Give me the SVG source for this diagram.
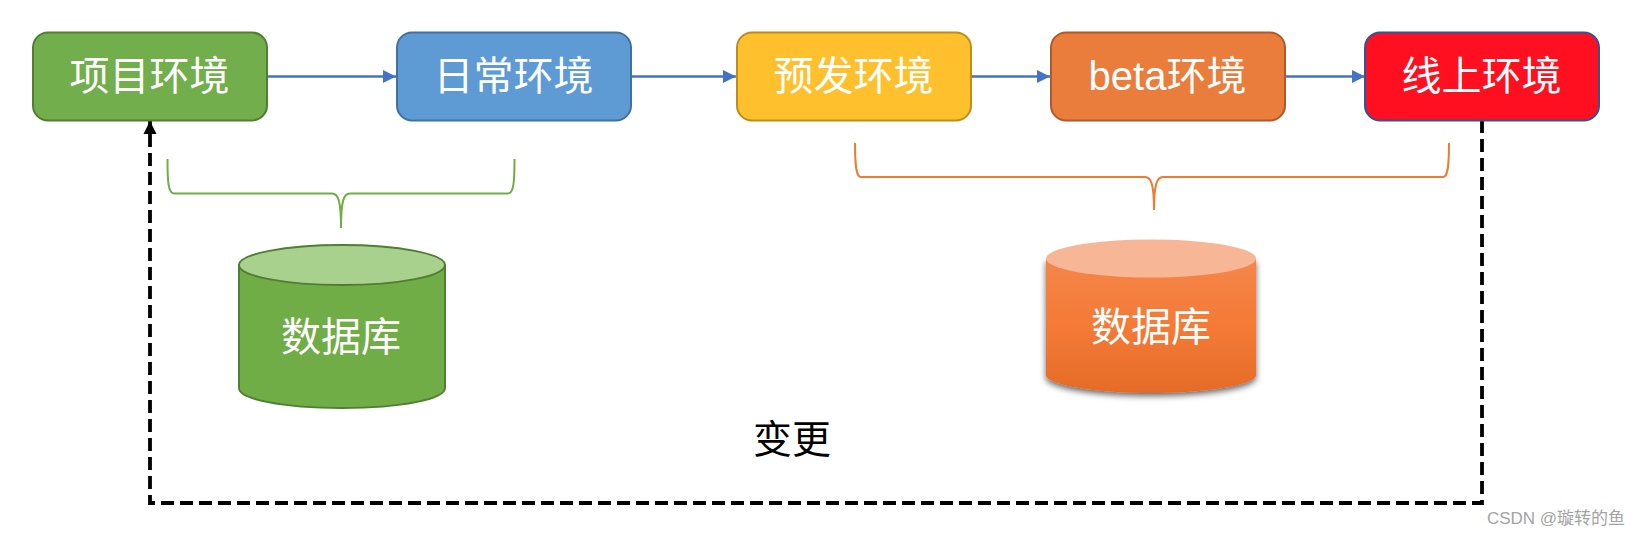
<svg xmlns="http://www.w3.org/2000/svg" width="1640" height="536" viewBox="0 0 1640 536">
<style>
text{font-family:"Liberation Sans","Noto Sans CJK SC",sans-serif;text-anchor:middle}
.n{stroke-width:2}
.l{font-size:40px;fill:#fff}
.c{fill:none;stroke:#4472c4;stroke-width:2.4}
.b{fill:none;stroke-width:2}
</style>
<defs>
<marker id="a" markerUnits="userSpaceOnUse" markerWidth="14" markerHeight="14" refX="13" refY="7" orient="auto"><path d="M0 0.5L13 7L0 13.5Z" fill="#4472c4"/></marker>
<marker id="k" markerUnits="userSpaceOnUse" markerWidth="14" markerHeight="14" refX="13" refY="7" orient="auto"><path d="M0 0.5L13 7L0 13.5Z" fill="#000"/></marker>
<linearGradient id="o" x1="0" y1="0" x2="0" y2="1"><stop offset="0" stop-color="#f4864a"/><stop offset=".5" stop-color="#f47a36"/><stop offset="1" stop-color="#e56b28"/></linearGradient>
<filter id="s" x="-10%" y="-10%" width="120%" height="125%"><feDropShadow dx="0" dy="3" stdDeviation="3" flood-color="#000" flood-opacity=".6"/></filter>
</defs>
<rect width="1640" height="536" fill="#fff"/>
<g id="connectors">
<path class="c" d="M268 76.5H396" marker-end="url(#a)"/>
<path class="c" d="M632 76.5H736" marker-end="url(#a)"/>
<path class="c" d="M971 76.5H1050" marker-end="url(#a)"/>
<path class="c" d="M1285 76.5H1365" marker-end="url(#a)"/>
<path d="M1482 120V503H150V121" fill="none" stroke="#000" stroke-width="3.8" stroke-dasharray="13 6" marker-end="url(#k)"/>
</g>
<g id="env-project"><rect class="n" x="33" y="32.500" width="234" height="88" rx="15" fill="#72ae4c" stroke="#507e32"/><text class="l" x="149.500" y="90">项目环境</text></g>
<g id="env-daily"><rect class="n" x="397" y="32.500" width="234" height="88" rx="15" fill="#5e9bd5" stroke="#41719c"/><text class="l" x="513.500" y="90">日常环境</text></g>
<g id="env-pre"><rect class="n" x="737" y="32.500" width="234" height="88" rx="15" fill="#ffc02d" stroke="#bc8c1f"/><text class="l" x="853.500" y="90">预发环境</text></g>
<g id="env-beta"><rect class="n" x="1051" y="32.500" width="234" height="88" rx="15" fill="#ea7d3c" stroke="#ae5a2a"/><text class="l" x="1167.500" y="90">beta环境</text></g>
<g id="env-online"><rect class="n" x="1365" y="32.500" width="234" height="88" rx="15" fill="#ff0f1f" stroke="#2f5597"/><text class="l" x="1481.500" y="90">线上环境</text></g>
<g id="brace-green"><path class="b" stroke="#70ad47" d="M167.500 159C167.500 180 168 193.500 174 193.500H332C338 193.500 341 200 341 228C341 200 344 193.500 350 193.500H508C514 193.500 514.500 180 514.500 159"/></g>
<g id="brace-orange"><path class="b" stroke="#ed7d31" d="M855 143C855 165 856 177 861 177H1145C1151 177 1154 184 1154 210C1154 184 1157 177 1163 177H1443C1448 177 1449 165 1449 143"/></g>
<g id="db-green">
<path d="M239 265V388C239 399 282 408 342 408S445 399 445 388V265Z" fill="#70ad47" stroke="#507e32" stroke-width="2"/>
<ellipse cx="342" cy="265" rx="103" ry="20" fill="#a9d18e" stroke="#507e32" stroke-width="2"/>
<text class="l" x="341" y="351">数据库</text>
</g>
<g id="db-orange">
<path d="M1046 259V375C1046 385 1095 393 1151 393S1256 385 1256 375V259Z" fill="url(#o)" filter="url(#s)"/>
<ellipse cx="1151" cy="258.500" rx="105" ry="19" fill="#f7b797"/>
<text class="l" x="1151" y="341">数据库</text>
</g>
<text id="change" x="792" y="453" font-size="39" fill="#000">变更</text>
<text id="watermark" x="1556" y="524" font-size="17" fill="#a3a3a3">CSDN @璇转的鱼</text>
</svg>
